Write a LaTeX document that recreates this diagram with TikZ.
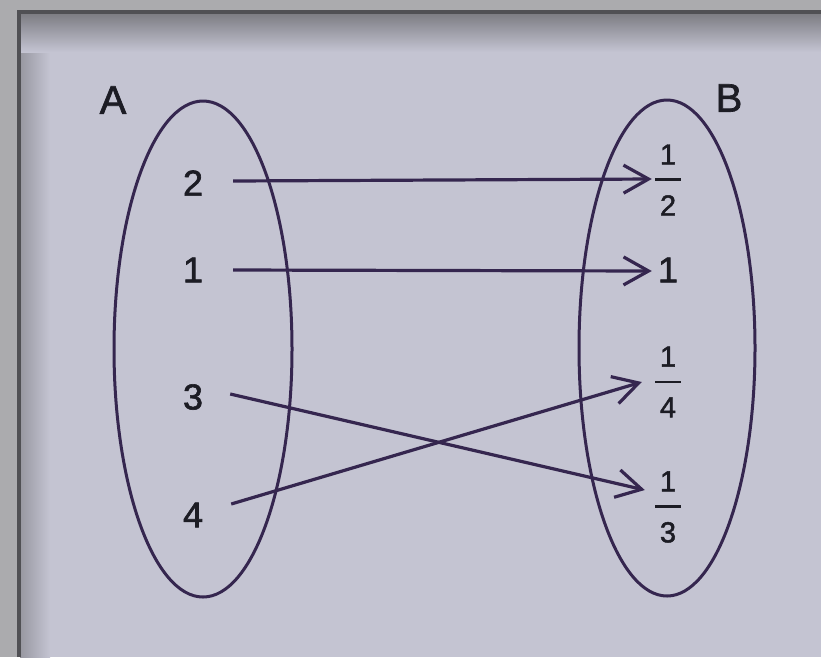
\documentclass[tikz,border=0pt]{standalone}
\usepackage{fontspec}
\setmainfont[FakeBold=1.6,AutoFakeBold=1.6]{Liberation Sans}
\usetikzlibrary{arrows.meta}
\definecolor{outer}{HTML}{ABABAE}
\definecolor{page}{HTML}{C4C4D2}
\definecolor{band}{HTML}{7A7A80}
\definecolor{frameln}{HTML}{505054}
\definecolor{ink}{HTML}{35264F}
\definecolor{txt}{HTML}{1C1C24}
\newcommand\vfr[2]{\vbox{\hbox to 26pt{\hss#1\hss}\kern14pt\hrule height 2.8pt\kern14pt\hbox to 26pt{\hss#2\hss}}}
\tikzset{
  setlbl/.style={inner sep=0pt, text=txt, font=\fontsize{40}{44}\selectfont\bfseries},
  elem/.style={inner sep=0pt, text=txt, font=\fontsize{36}{40}\selectfont\bfseries},
  frel/.style={inner sep=0pt, text=txt, font=\fontsize{29}{32}\selectfont\bfseries},
  setoval/.style={draw=ink, line width=3pt},
  maparrow/.style={draw=ink, line width=3.2pt, -{Straight Barb[length=25pt,width=28pt]}}
}
\begin{document}
\begin{tikzpicture}[x=1pt,y=-1pt]
\useasboundingbox (0,0) rectangle (821,657);
% background: photographed page
\fill[outer] (0,0) rectangle (821,657);
\fill[page] (20,12) rectangle (821,657);
\shade[left color=band!60!page, right color=page] (20,12) rectangle (50,657);
\shade[top color=band, bottom color=page] (20,12) rectangle (821,52);
\draw[frameln, line width=4pt] (19,657) -- (19,12) -- (821,12);
% sets
\draw[setoval] (203,349) ellipse [x radius=89, y radius=248];
\draw[setoval] (667,348) ellipse [x radius=88, y radius=248];
\node[setlbl] (A) at (113,100) {A};
\node[setlbl] (B) at (729,98) {B};
% elements of A
\node[elem] (a2) at (193,183) {2};
\node[elem] (a1) at (193,270) {1};
\node[elem] (a3) at (193,397) {3};
\node[elem] (a4) at (193,515) {4};
% elements of B
\node[frel] (b12) at (668,180) {\vfr{1}{2}};
\node[elem] (b1) at (668,270) {1};
\node[frel] (b14) at (668,382) {\vfr{1}{4}};
\node[frel] (b13) at (668,507) {\vfr{1}{3}};
% mapping
\draw[maparrow] ([xshift=30pt,yshift=2pt]a2.east) -- ([xshift=-3pt,yshift=1pt]b12.west);
\draw[maparrow] ([xshift=30pt]a1.east) -- ([xshift=-6pt,yshift=-1pt]b1.west);
\draw[maparrow] ([xshift=27pt,yshift=3pt]a3.east) -- ([xshift=-10pt,yshift=17pt]b13.west);
\draw[maparrow] ([xshift=28pt,yshift=11pt]a4.east) -- ([xshift=-13pt]b14.west);
\end{tikzpicture}
\end{document}
